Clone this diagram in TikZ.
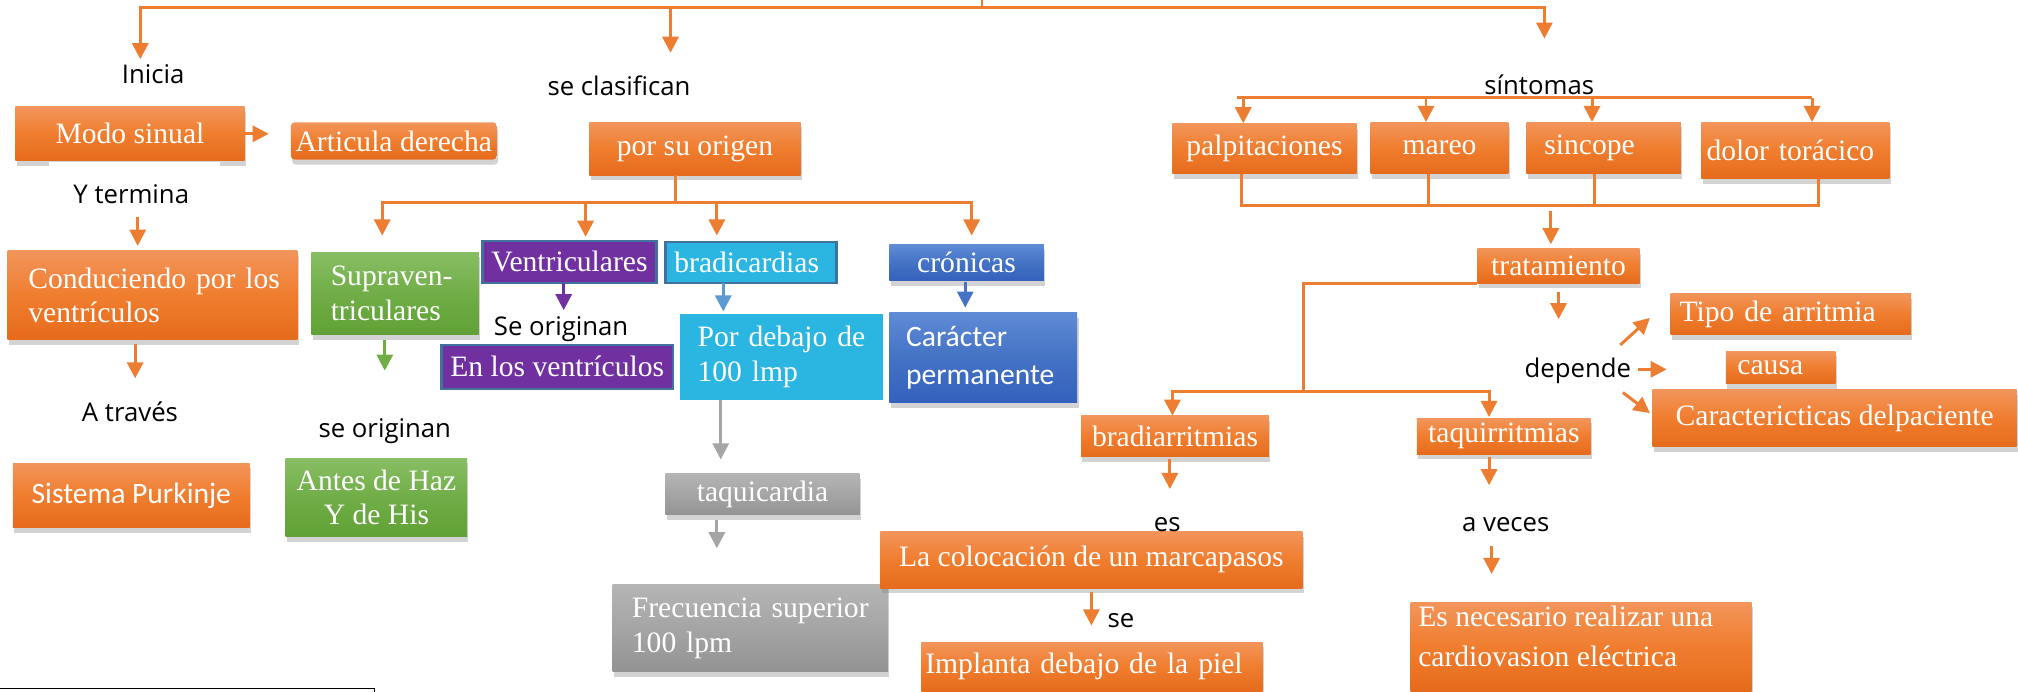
\documentclass[tikz,border=0pt]{standalone}
\usepackage{fontspec}
\newfontfamily\bxserif{Liberation Serif}
\newfontfamily\hwsans{Open Sans}
\newfontfamily\cbsans{Carlito}
\usetikzlibrary{arrows.meta,shadows}
\definecolor{oT}{HTML}{F2955B}
\definecolor{oM}{HTML}{F07D2E}
\definecolor{oB}{HTML}{E66B1C}
\definecolor{gT}{HTML}{88BE64}
\definecolor{gM}{HTML}{70AD47}
\definecolor{gB}{HTML}{60A135}
\definecolor{grT}{HTML}{B5B5B5}
\definecolor{grM}{HTML}{A5A5A5}
\definecolor{grB}{HTML}{939393}
\definecolor{bT}{HTML}{5F8BD6}
\definecolor{bM}{HTML}{4472C4}
\definecolor{bB}{HTML}{3461BC}
\definecolor{pur}{HTML}{7030A0}
\definecolor{cya}{HTML}{2BB5E1}
\definecolor{brd}{HTML}{41719C}
\definecolor{lnO}{HTML}{ED7D31}
\definecolor{lnG}{HTML}{70AD47}
\definecolor{lnB}{HTML}{5B9BD5}
\definecolor{lnGr}{HTML}{A5A5A5}
\definecolor{lnBl}{HTML}{4472C4}
\begin{document}
\begin{tikzpicture}[x=1pt,y=-1pt,
  base/.style={rectangle, inner xsep=0pt, inner ysep=0pt, text=white,
    font=\bxserif\fontsize{23}{27}\selectfont, align=center},
  sh/.style={drop shadow={shadow xshift=1pt, shadow yshift=-4pt, opacity=0.35}},
  obox/.style={base, sh, top color=oT, bottom color=oB, middle color=oM},
  gbox/.style={base, sh, top color=gT, bottom color=gB, middle color=gM},
  grbox/.style={base, sh, top color=grT, bottom color=grB, middle color=grM},
  bbox/.style={base, sh, top color=bT, bottom color=bB, middle color=bM},
  pbox/.style={base, fill=pur, draw=brd, line width=1.8pt},
  cbox/.style={base, fill=cya},
  sz/.style n args={2}{minimum width=#1pt, minimum height=#2pt},
  lft/.style n args={2}{align=left, inner xsep=#1pt, text width=#2pt},
  sansbox/.style={font=\cbsans\fontsize{23}{29}\selectfont},
  lab/.style={inner sep=0pt, text=black, font=\hwsans\fontsize{20}{24}\selectfont},
  ln/.style={draw=lnO, line width=2.3pt},
  arr/.style={line width=2.3pt, -{Triangle[width=12.5pt,length=12.5pt]}},
  arrO/.style={arr, draw=lnO}
]
\useasboundingbox (0,0) rectangle (1568,537);

% ---------- boxes ----------
\node[obox, sz={178}{42}] (modo) at (101,104) {Modo sinual};
\fill[white] (38,126) rectangle (171,133);
\node[obox, sz={160}{29}, rounded corners=3pt] (articula) at (306,109.5) {Articula derecha};
\node[obox, sz={225}{69}, lft={16}{193}] (conduc) at (118.5,229.5) {\mbox{Conduciendo por los}\\ventrículos};
\node[obox, sz={184}{50}, sansbox] (purk) at (102,385) {Sistema Purkinje};

\node[obox, sz={164}{41}] (porsu) at (540,115.5) {por su origen};
\node[gbox, sz={130}{64}, lft={15}{100}] (supra) at (307,228) {Supraven-\\triculares};
\node[gbox, sz={141}{61}, font=\bxserif\fontsize{23}{27}\selectfont] (antes) at (292.5,386.5) {Antes de Haz\\Y de His};
\node[pbox, sz={135}{33}] (ventr) at (442.5,203.5) {Ventriculares};
\node[pbox, sz={180}{34}] (enlos) at (433,285) {En los ventrículos};
\node[cbox, draw=brd, line width=1.8pt, sz={133}{32}, lft={7}{119}] (bradi) at (583.5,204) {bradicardias};
\node[cbox, sz={158}{67}, lft={14}{130}] (pordeb) at (607,277.5) {\mbox{Por debajo de}\\100 lmp};
\node[grbox, sz={151}{32}] (taqui) at (592.5,384) {taquicardia};
\node[grbox, sz={214}{68}, lft={15}{184}] (frec) at (583,488) {\mbox{Frecuencia superior}\\100 lpm};
\node[bbox, sz={120}{28}] (cron) at (751,204) {crónicas};
\node[bbox, sz={146}{70}, lft={13}{120}, sansbox] (carac) at (764,278) {Carácter\\\mbox{permanente}};

\node[obox, sz={143}{39}] (palp) at (982.5,115.5) {palpitaciones};
\node[obox, sz={107}{40}] (mareo) at (1118.5,115) {mareo};
\node[obox, sz={120}{40}, lft={14}{92}] (sinc) at (1246,115) {sincope};
\node[obox, sz={146}{44}, lft={4}{138}] (dolor) at (1395,117) {\mbox{dolor torácico}};
\node[obox, sz={126}{27}] (trat) at (1211,206.5) {tratamiento};
\node[obox, sz={187}{32}, lft={7}{173}] (tipo) at (1391.5,244) {\mbox{Tipo de arritmia}};
\node[obox, sz={85}{25}, lft={9}{67}] (causa) at (1383.5,285.5) {causa};
\node[obox, sz={283}{44}] (caract) at (1425.5,325) {Caractericticas delpaciente};
\node[obox, sz={146}{32}] (bradiarr) at (913,339) {bradiarritmias};
\node[obox, sz={135}{28}] (taquiarr) at (1168.5,339) {taquirritmias};
\node[obox, sz={328}{44}] (coloc) at (848,435) {La colocación de un marcapasos};
\node[obox, sz={265}{38}, lft={3}{259}] (implanta) at (848.5,518) {\mbox{Implanta debajo de la piel}};
\node[obox, sz={265}{69}] (esnec) at (1228.5,502.5) {};
\node[base, anchor=north west, align=left, font=\bxserif\fontsize{23}{31}\selectfont]
  (esnecT) at ([xshift=6pt, yshift=-3pt]esnec.north west) {Es necesario realizar una\\cardiovasion eléctrica};

% ---------- handwritten labels ----------
\node[lab] (inicia) at (119,58) {Inicia};
\node[lab] (seclas) at (481,67) {se clasifican};
\node[lab] (ytermina) at (102,151) {Y termina};
\node[lab] (atraves) at (101,320) {A través};
\node[lab] (seorig) at (299,335) {se originan};
\node[lab] (Seorig) at (436,256) {Se originan};
\node[lab] (sintomas) at (1196,66) {síntomas};
\node[lab] (depende) at (1226,288) {depende};
\node[lab] (es) at (907,408) {es};
\node[lab] (se) at (871,482) {se};
\node[lab] (aveces) at (1170,408) {a veces};

% ---------- top bus ----------
\coordinate (root) at (763,0);
\coordinate (bus) at (763,6);
\coordinate (tInicia) at (109,46);
\coordinate (tClas) at (521,41);
\coordinate (tSint) at (1200,30);
\draw[ln] (root) -- (bus);
\draw[arrO] (bus) -| (tInicia);
\draw[arrO] (bus) -| (tClas);
\draw[arrO] (bus) -| (tSint);

% ---------- left column ----------
\draw[arrO, shorten >=17pt] (modo.east) -- (modo.east -| articula.west);
\coordinate (c1a) at (107,169); \coordinate (c1b) at (107,191);
\draw[arrO] (c1a) -- (c1b);
\coordinate (c2a) at (105,267); \coordinate (c2b) at (105,294);
\draw[arrO] (c2a) -- (c2b);

% ---------- por su origen ----------
\coordinate (pj) at (525,157);
\coordinate (tSup) at (297,183);
\coordinate (tVen) at (455,184);
\coordinate (tBra) at (557,183);
\coordinate (tCro) at (755,183);
\draw[ln] (pj |- porsu.south) -- (pj);
\draw[arrO] (pj) -| (tSup);
\draw[arrO] (pj) -| (tVen);
\draw[arrO] (pj) -| (tBra);
\draw[arrO] (pj) -| (tCro);

\coordinate (c3a) at (299,264); \coordinate (c3b) at (299,288);
\draw[arr, draw=lnG] (c3a) -- (c3b);
\coordinate (c4a) at (438,220); \coordinate (c4b) at (438,241);
\draw[arr, draw=pur] (c4a) -- (c4b);
\coordinate (c5a) at (562,220); \coordinate (c5b) at (562,242);
\draw[arr, draw=lnB] (c5a) -- (c5b);
\coordinate (c6a) at (560,311); \coordinate (c6b) at (560,357);
\draw[arr, draw=lnGr] (c6a) -- (c6b);
\coordinate (c7a) at (557,404); \coordinate (c7b) at (557,426);
\draw[arr, draw=lnGr] (c7a) -- (c7b);
\coordinate (c8a) at (750,219); \coordinate (c8b) at (750,239);
\draw[arr, draw=lnBl] (c8a) -- (c8b);

% ---------- sintomas ----------
\coordinate (sL) at (961,76);
\coordinate (s1) at (966,76);
\coordinate (s2) at (1108,76);
\coordinate (s3) at (1237,76);
\coordinate (s4) at (1408,76);
\draw[ln] (sL) -- (s4);
\draw[arrO] (s1) -- (s1 |- palp.north);
\draw[arrO] (s2) -- (s2 |- mareo.north);
\draw[arrO] (s3) -- (s3 |- sinc.north);
\draw[arrO] (s4) -- (s4 |- dolor.north);

\coordinate (b1) at (965,160);
\coordinate (b2) at (1110,160);
\coordinate (b3) at (1239,160);
\coordinate (b4) at (1413,160);
\draw[ln] (b1 |- palp.south) -- (b1) -- (b4) -- (b4 |- dolor.south);
\draw[ln] (b2 |- mareo.south) -- (b2);
\draw[ln] (b3 |- sinc.south) -- (b3);
\coordinate (t1) at (1205,164);
\draw[arrO, shorten >=3pt] (t1) -- (t1 |- trat.north);

% ---------- tratamiento ----------
\coordinate (tj) at (1013,304);
\coordinate (tBr) at (911,323);
\coordinate (tTa) at (1157,324);
\draw[ln] (trat.south west) -- (tj |- trat.south west) -- (tj);
\draw[arrO] (tj) -| (tBr);
\draw[arrO] (tj) -| (tTa);

\coordinate (c9a) at (1211,227); \coordinate (c9b) at (1211,248);
\draw[arrO] (c9a) -- (c9b);
\coordinate (d1a) at (1259,268); \coordinate (d1b) at (1282,247);
\draw[arrO] (d1a) -- (d1b);
\coordinate (d2a) at (1273,287); \coordinate (d2b) at (1295,287);
\draw[arrO] (d2a) -- (d2b);
\coordinate (d3a) at (1261,305); \coordinate (d3b) at (1282,321);
\draw[arrO] (d3a) -- (d3b);

\coordinate (c10a) at (909,357); \coordinate (c10b) at (909,380);
\draw[arrO] (c10a) -- (c10b);
\coordinate (c11a) at (848,460); \coordinate (c11b) at (848,486);
\draw[arrO] (c11a) -- (c11b);
\coordinate (c12a) at (1157,355); \coordinate (c12b) at (1157,377);
\draw[arrO] (c12a) -- (c12b);
\coordinate (c13a) at (1159,424); \coordinate (c13b) at (1159,446);
\draw[arrO] (c13a) -- (c13b);

% ---------- bottom-left frame edge ----------
\draw[black, line width=1.2pt] (0,535) -- (291,535) -- (291,540);
\end{tikzpicture}
\end{document}
